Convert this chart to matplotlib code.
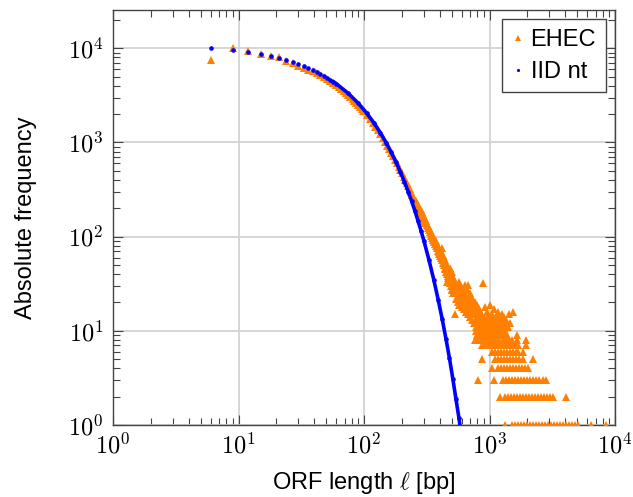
import numpy as np
import matplotlib
matplotlib.use("Agg")
import matplotlib.pyplot as plt
from matplotlib.ticker import LogLocator, FuncFormatter, NullFormatter

plt.rcParams['font.family'] = ['Liberation Sans', 'DejaVu Sans']
plt.rcParams['mathtext.fontset'] = 'cm'

# IID nucleotide model
iid_len = [6, 9, 12, 15, 18, 21, 24, 27, 30, 33, 36, 39, 42, 45, 48, 51, 54, 57, 60,
           75, 90, 105, 120, 135, 150, 165, 180, 195, 210, 225, 240, 255, 270, 285,
           300, 330, 360, 390, 420, 450, 480, 510, 540, 570, 600]
iid_cnt = [10000, 9531, 9084, 8659, 8253, 7866, 7497, 7146, 6811, 6492, 6187, 5897,
           5621, 5357, 5106, 4867, 4639, 4421, 4214,
           3315, 2608, 2051, 1613, 1269, 999, 786, 618, 486, 382, 301, 237, 186, 146, 115,
           90.5, 56, 34.7, 21.4, 13.3, 8.2, 5.1, 3.1, 1.9, 1.2, 0.74]

# EHEC ORF counts, short ORFs (follow the model closely)
ehec_len_short = [6, 9, 12, 15, 18, 21, 24, 27, 30, 33, 36, 39, 42, 45, 48, 51, 54, 57, 60,
                  63, 66, 69, 72, 75, 78, 81, 84, 87, 90, 93, 96, 99,
                  105, 111, 117, 123, 129, 135, 141, 147, 153, 159, 165, 171, 177,
                  183, 189, 195, 201, 207, 213, 219, 225, 231, 237, 243, 249]
ehec_cnt_short = [7510, 10170, 9290, 8800, 8360, 8000, 7380, 6900, 6560, 6250, 5950, 5670,
                  5400, 5150, 4900, 4670, 4450, 4240, 4040,
                  3850, 3670, 3500, 3340, 3180, 3030, 2890, 2750, 2620, 2500, 2380, 2270, 2160,
                  1960, 1780, 1620, 1470, 1340, 1220, 1110, 1010, 925, 845, 775, 710, 650,
                  600, 555, 510, 470, 435, 400, 370, 345, 320, 298, 275, 255]

# EHEC, longer ORFs (scattered tail)
ehec_len_tail = [252, 255, 258, 261, 264, 267, 270, 273, 276, 279, 282, 285, 288, 291, 294,
                 297, 300, 303, 306, 309, 312, 315, 318, 321, 324, 327, 330, 333, 336, 339,
                 342, 345, 348, 351, 354, 357, 360, 363, 366, 369, 372, 375, 378, 381, 384,
                 387, 390, 393, 396, 399, 402, 405, 408, 411, 414, 417, 420,
                 423, 426, 429, 432, 435, 438, 441, 444, 447, 450, 453, 456, 459, 462, 465,
                 468, 471, 474, 477, 480, 483, 486, 489, 492, 495, 498, 501, 504, 507, 510,
                 513, 516, 519, 522, 528, 531,
                 537, 543, 546, 552, 558, 561, 567, 573, 576, 582, 588, 594, 600, 606, 612,
                 618, 624, 630, 636, 642, 648, 654, 660, 666, 672, 675, 681, 687, 693, 699,
                 705, 711, 717, 723, 729, 735, 741, 747, 753, 759, 765, 771, 777, 783, 789,
                 795, 801, 807, 813, 819, 825, 831, 837, 843, 849, 855, 861, 867, 873, 879,
                 888, 891, 900, 909, 918, 930, 942, 954, 966, 978, 990, 1005, 1020, 1035,
                 1050, 1068, 1086, 1104, 1125, 1150, 1180, 1210, 1240, 1275, 1310, 1350, 1400,
                 920, 960, 1000, 1040, 1080, 1120, 1160, 1200, 1250, 1300, 1350, 1420, 1460,
                 1530, 700, 760, 820, 1100, 1180, 1260, 1330]
ehec_cnt_tail = [248, 232, 240, 222, 228, 210, 215, 198, 204, 188, 193, 176, 182, 166, 172,
                 156, 162, 148, 153, 140, 145, 132, 137, 125, 130, 118, 123, 112, 117, 106,
                 111, 101, 105, 96, 100, 92, 97, 87, 93, 83, 89, 79, 86, 75, 82,
                 71, 79, 68, 75, 65, 72, 62, 69, 59, 66, 75, 57,
                 64, 53, 61, 50, 59, 47, 56, 45, 53, 42, 51, 40, 33, 48, 38,
                 45, 36, 43, 34, 41, 32, 46, 30, 39, 35, 28, 42, 33, 27, 37,
                 31, 25, 35, 29, 15, 33,
                 27, 22, 31, 25, 20, 29, 23, 33, 19, 26, 21, 30, 18, 24, 28,
                 20, 17, 25, 21, 31, 16, 23, 19, 27, 15, 31, 22, 18, 25, 14,
                 20, 17, 23, 13, 19, 16, 21, 12, 18, 15, 20, 13, 17, 11, 16,
                 14, 19, 12, 15, 17, 11, 14, 12, 16, 13, 11, 15, 12, 14, 11,
                 32, 13, 12, 14, 11, 13, 12, 11, 14, 12, 11, 13, 12, 11,
                 14, 12, 11, 13, 11, 12, 11, 13, 11, 12, 11, 12, 11,
                 18, 16, 19, 15, 17, 14, 16, 13, 15, 14, 13, 15, 12,
                 16, 21, 19, 17, 12, 14, 13, 12]

# EHEC, rare long ORFs: lengths seen at each small count
rows_len = {
    10: [780, 825, 875, 925, 980, 1035, 1095, 1160, 1230, 1300, 1340],
    9: [800, 845, 895, 945, 1000, 1060, 1120, 1185, 1255, 1330, 1380, 1647],
    8: [766, 810, 858, 908, 960, 1015, 1075, 1135, 1200, 1270, 1345, 1420, 1502, 1647, 1954],
    7: [866, 915, 970, 1025, 1085, 1150, 1215, 1285, 1360, 1440, 1520, 1610, 1687, 1954],
    6: [1041, 1100, 1165, 1230, 1300, 1375, 1455, 1540, 1630, 1687, 1849],
    5: [866, 1106, 1170, 1235, 1305, 1380, 1460, 1545, 1635, 1730, 1849, 2210],
    4: [1041, 1169, 1235, 1305, 1380, 1460, 1545, 1635, 1730, 1830, 1930, 2027],
    3: [810, 1086, 1282, 1350, 1430, 1510, 1600, 1690, 1790, 1890, 2000, 2110, 2230,
        2360, 2500, 2650, 2820],
    2: [1213, 1330, 1400, 1480, 1560, 1650, 1740, 1840, 1950, 2060, 2180, 2300, 2430,
        2570, 2720, 2870, 3030, 3205, 4070],
    1: [1330, 1500, 1590, 1680, 1780, 1880, 1990, 2100, 2220, 2350, 2480, 2620, 2770,
        2930, 3100, 3280, 3460, 3660, 3870, 4090, 4320, 4570, 4830, 5070, 6400, 8430],
}

ehec_len = ehec_len_short + ehec_len_tail
ehec_cnt = ehec_cnt_short + ehec_cnt_tail
for c, ls in rows_len.items():
    ehec_len += ls
    ehec_cnt += [c] * len(ls)

orange = '#ff8000'
blue = '#0000ff'

fig = plt.figure(figsize=(6.33, 4.97), dpi=100)
ax = fig.add_axes([113 / 633, 72 / 497, 502 / 633, 415 / 497])

ax.plot(ehec_len, ehec_cnt, '^', color=orange, ms=5.6, mew=0, label='EHEC', zorder=3)
n0 = iid_len.index(57)
ax.plot(iid_len[n0:], iid_cnt[n0:], '-', color=blue, lw=2.6, zorder=4)
ax.plot(iid_len, iid_cnt, 'o', color=blue, ms=3.3, mew=0, label='IID nt', zorder=4)

ax.set_xscale('log')
ax.set_yscale('log')
ax.set_xlim(1, 1e4)
ax.set_ylim(1, 2.55e4)

fmt = FuncFormatter(lambda v, p: r'$10^{%d}$' % round(np.log10(v)))
for a in (ax.xaxis, ax.yaxis):
    a.set_major_locator(LogLocator(base=10, numticks=10))
    a.set_minor_locator(LogLocator(base=10, subs=np.arange(2, 10), numticks=10))
    a.set_major_formatter(fmt)
    a.set_minor_formatter(NullFormatter())

ax.tick_params(which='both', direction='in', top=True, right=True, colors='#444444',
               labelcolor='black', labelsize=17.5)
ax.tick_params(which='major', length=7, width=0.8)
ax.tick_params(which='minor', length=4.8, width=0.8)
ax.tick_params(axis='x', pad=6)
ax.tick_params(axis='y', pad=7)

ax.grid(True, which='major', color='#d0d0d0', lw=1.2)
ax.set_axisbelow(True)
for s in ax.spines.values():
    s.set_color('#444444')
    s.set_linewidth(1.0)

ax.set_xlabel(r'ORF length $\ell$ [bp]', fontsize=17, labelpad=8)
ax.set_ylabel('Absolute frequency', fontsize=17, labelpad=22)

leg = ax.legend(loc='upper right', fontsize=17, markerscale=0.7, handlelength=0.5,
                handletextpad=0.3, labelspacing=0.42, borderaxespad=0.4,
                borderpad=0.4, fancybox=False, framealpha=1, edgecolor='#444444')
leg.get_frame().set_linewidth(1.0)

fig.savefig('out.png', dpi=100)
